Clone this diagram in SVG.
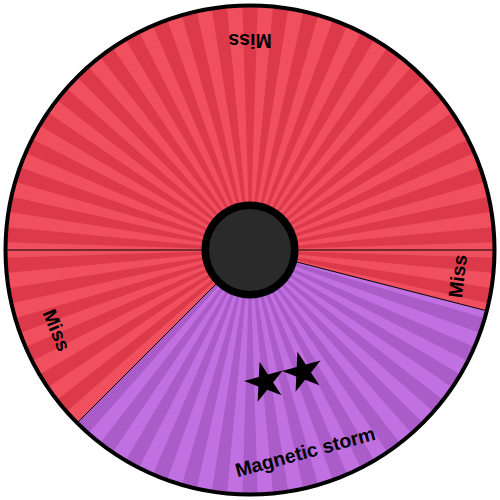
<svg xmlns="http://www.w3.org/2000/svg" width="500" height="500" viewBox="0 0 500 500">
<defs>
<style>
.lbl{font-family:"Liberation Sans",Arial,sans-serif;font-weight:bold;font-size:19.5px;fill:#000;text-anchor:middle;dominant-baseline:central}
.sep{stroke:#000;stroke-width:1;fill:none}
.red{fill:#f0505e}
.redd{fill:#dc3a4a}
.pur{fill:#c070e0}
.purd{fill:#aa5cc8}
.star{fill:#000}
</style>
<path id="w" d="M0,0 L244.88,-7.7 L244.88,7.7 Z"/>
<path id="st" d="M0,-21 L4.73,-6.51 L19.97,-6.49 L7.65,2.49 L12.34,16.99 L0,8.05 L-12.34,16.99 L-7.65,2.49 L-19.97,-6.49 L-4.73,-6.51 Z"/>
<g id="rays" transform="translate(250,250)">
<use href="#w" transform="rotate(3.6)"/><use href="#w" transform="rotate(10.8)"/><use href="#w" transform="rotate(18)"/><use href="#w" transform="rotate(25.2)"/><use href="#w" transform="rotate(32.4)"/>
<use href="#w" transform="rotate(39.6)"/><use href="#w" transform="rotate(46.8)"/><use href="#w" transform="rotate(54)"/><use href="#w" transform="rotate(61.2)"/><use href="#w" transform="rotate(68.4)"/>
<use href="#w" transform="rotate(75.6)"/><use href="#w" transform="rotate(82.8)"/><use href="#w" transform="rotate(90)"/><use href="#w" transform="rotate(97.2)"/><use href="#w" transform="rotate(104.4)"/>
<use href="#w" transform="rotate(111.6)"/><use href="#w" transform="rotate(118.8)"/><use href="#w" transform="rotate(126)"/><use href="#w" transform="rotate(133.2)"/><use href="#w" transform="rotate(140.4)"/>
<use href="#w" transform="rotate(147.6)"/><use href="#w" transform="rotate(154.8)"/><use href="#w" transform="rotate(162)"/><use href="#w" transform="rotate(169.2)"/><use href="#w" transform="rotate(176.4)"/>
<use href="#w" transform="rotate(183.6)"/><use href="#w" transform="rotate(190.8)"/><use href="#w" transform="rotate(198)"/><use href="#w" transform="rotate(205.2)"/><use href="#w" transform="rotate(212.4)"/>
<use href="#w" transform="rotate(219.6)"/><use href="#w" transform="rotate(226.8)"/><use href="#w" transform="rotate(234)"/><use href="#w" transform="rotate(241.2)"/><use href="#w" transform="rotate(248.4)"/>
<use href="#w" transform="rotate(255.6)"/><use href="#w" transform="rotate(262.8)"/><use href="#w" transform="rotate(270)"/><use href="#w" transform="rotate(277.2)"/><use href="#w" transform="rotate(284.4)"/>
<use href="#w" transform="rotate(291.6)"/><use href="#w" transform="rotate(298.8)"/><use href="#w" transform="rotate(306)"/><use href="#w" transform="rotate(313.2)"/><use href="#w" transform="rotate(320.4)"/>
<use href="#w" transform="rotate(327.6)"/><use href="#w" transform="rotate(334.8)"/><use href="#w" transform="rotate(342)"/><use href="#w" transform="rotate(349.2)"/><use href="#w" transform="rotate(356.4)"/>
</g>
<clipPath id="cTop"><path d="M250,250 L0,250 A250,250 0 0 1 500,250 Z"/></clipPath>
<clipPath id="cRight"><path d="M250,250 L500,250 A250,250 0 0 1 492.14,312.17 Z"/></clipPath>
<clipPath id="cPur"><path d="M250,250 L492.14,312.17 A250,250 0 0 1 73.22,426.78 Z"/></clipPath>
<clipPath id="cLeft"><path d="M250,250 L73.22,426.78 A250,250 0 0 1 0,250 Z"/></clipPath>
</defs>
<g id="seg-top" clip-path="url(#cTop)">
<circle class="red" cx="250" cy="250" r="245"/>
<use href="#rays" class="redd"/>
</g>
<g id="seg-right" clip-path="url(#cRight)">
<circle class="red" cx="250" cy="250" r="245"/>
<use href="#rays" class="redd"/>
</g>
<g id="seg-purple" clip-path="url(#cPur)">
<circle class="pur" cx="250" cy="250" r="245"/>
<use href="#rays" class="purd"/>
</g>
<g id="seg-left" clip-path="url(#cLeft)">
<circle class="red" cx="250" cy="250" r="245"/>
<use href="#rays" class="redd"/>
</g>
<g id="dividers">
<line class="sep" x1="250" y1="250" x2="494" y2="250"/>
<line class="sep" x1="250" y1="250" x2="486.3" y2="310.7"/>
<line class="sep" x1="250" y1="250" x2="77.5" y2="422.5"/>
<line class="sep" x1="250" y1="250" x2="6" y2="250"/>
</g>
<circle id="rim" cx="250" cy="250" r="244.5" fill="none" stroke="#000" stroke-width="4"/>
<g id="labels">
<text class="lbl" transform="translate(250,41) rotate(180)">Miss</text>
<text class="lbl" transform="translate(457.4,276.2) rotate(-82.8)">Miss</text>
<text class="lbl" transform="translate(56.9,330) rotate(67.5)">Miss</text>
<text class="lbl" transform="translate(305.1,451.6) rotate(-15.3)">Magnetic storm</text>
</g>
<g id="stars">
<use href="#st" class="star" transform="translate(265.1,382.1) rotate(-15.3)"/>
<use href="#st" class="star" transform="translate(303,372) rotate(-15.3)"/>
</g>
<g id="hub">
<circle cx="250" cy="250" r="48.5" fill="#000"/>
<circle cx="250" cy="250" r="41" fill="#2a2a2a"/>
</g>
</svg>
